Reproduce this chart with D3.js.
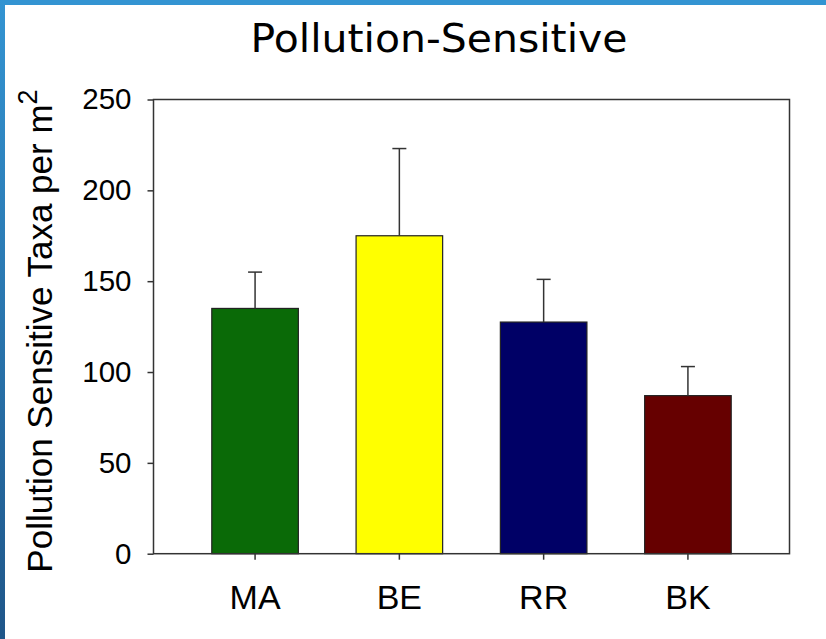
<!DOCTYPE html>
<html>
<head>
<meta charset="utf-8">
<script src="https://cdn.jsdelivr.net/npm/d3@7"></script>
<style>
  html, body { margin: 0; padding: 0; background: #fff; }
  svg { display: block; }
</style>
</head>
<body>
<div id="chart"></div>
<script>
const categories = ["MA", "BE", "RR", "BK"];
const means = [135, 175, 127.5, 87];
const errorsUp = [20, 48, 23.5, 16];
const barColors = ["#0a6a07", "#ffff00", "#000066", "#660000"];
const yTicks = [0, 50, 100, 150, 200, 250];
const titleText = "Pollution-Sensitive";
const yLabelText = "Pollution Sensitive Taxa per m";

const W = 826, H = 639;
const svg = d3.select("#chart").append("svg").attr("width", W).attr("height", H);

// slide border
const defs = svg.append("defs");
const grad = defs.append("linearGradient").attr("id", "bg").attr("x1", 0).attr("y1", 0).attr("x2", 0).attr("y2", 1);
grad.append("stop").attr("offset", "0%").attr("stop-color", "#3394d2");
grad.append("stop").attr("offset", "100%").attr("stop-color", "#1f5689");
svg.append("rect").attr("x", 0).attr("y", 0).attr("width", W).attr("height", 5).attr("fill", "#3394d2");
svg.append("rect").attr("x", 0).attr("y", 0).attr("width", 5).attr("height", H).attr("fill", "url(#bg)");

const pLeft = 153.5, pRight = 789.5, pTop = 99.5, pBottom = 553.7;

const x = d3.scaleBand().domain(categories).range([pLeft, pRight]).paddingInner(0.4).paddingOuter(0.404);
const y = d3.scaleLinear().domain([0, 250]).range([pBottom, pTop]);

// title
svg.append("text")
  .attr("x", 439).attr("y", 52)
  .attr("text-anchor", "middle")
  .attr("font-family", "DejaVu Sans, sans-serif")
  .attr("font-size", 39)
  .attr("textLength", 377).attr("lengthAdjust", "spacingAndGlyphs")
  .attr("fill", "#000")
  .text(titleText);

// bars
svg.append("g").selectAll("rect").data(categories).join("rect")
  .attr("x", d => x(d))
  .attr("y", (d, i) => y(means[i]))
  .attr("width", x.bandwidth())
  .attr("height", (d, i) => y(0) - y(means[i]))
  .attr("fill", (d, i) => barColors[i])
  .attr("stroke", "#222")
  .attr("stroke-width", 1.2);

// error bars (upper)
const eb = svg.append("g").attr("stroke", "#333").attr("stroke-width", 1.5);
categories.forEach((c, i) => {
  const cx = x(c) + x.bandwidth() / 2;
  eb.append("line").attr("x1", cx).attr("x2", cx)
    .attr("y1", y(means[i])).attr("y2", y(means[i] + errorsUp[i]));
  eb.append("line").attr("x1", cx - 7).attr("x2", cx + 7)
    .attr("y1", y(means[i] + errorsUp[i])).attr("y2", y(means[i] + errorsUp[i]));
});

// frame
svg.append("rect").attr("x", pLeft).attr("y", pTop).attr("width", pRight - pLeft).attr("height", pBottom - pTop)
  .attr("fill", "none").attr("stroke", "#333").attr("stroke-width", 1.5);

// y axis
const yAxis = svg.append("g").attr("transform", `translate(${pLeft},0)`)
  .call(d3.axisLeft(y).tickValues(yTicks).tickSize(6).tickPadding(16).tickFormat(d3.format("d")));
yAxis.select(".domain").remove();
yAxis.selectAll(".tick line").attr("stroke", "#333").attr("stroke-width", 1.5);
yAxis.selectAll(".tick text").attr("font-family", "Liberation Sans, Arial, sans-serif").attr("font-size", 29.5).attr("fill", "#000");

// x axis
const xAxis = svg.append("g").attr("transform", `translate(0,${pBottom})`)
  .call(d3.axisBottom(x).tickSize(6).tickPadding(25));
xAxis.select(".domain").remove();
xAxis.selectAll(".tick line").attr("stroke", "#333").attr("stroke-width", 1.5);
xAxis.selectAll(".tick text").attr("font-family", "Liberation Sans, Arial, sans-serif").attr("font-size", 34).attr("fill", "#000");

// y label
const yl = svg.append("text")
  .attr("transform", "translate(52,331) rotate(-90)")
  .attr("text-anchor", "middle")
  .attr("font-family", "Liberation Sans, Arial, sans-serif")
  .attr("font-size", 35)
  .attr("fill", "#000");
yl.append("tspan").text(yLabelText);
yl.append("tspan").attr("dy", -15).attr("font-size", 27).text("2");
</script>
</body>
</html>
